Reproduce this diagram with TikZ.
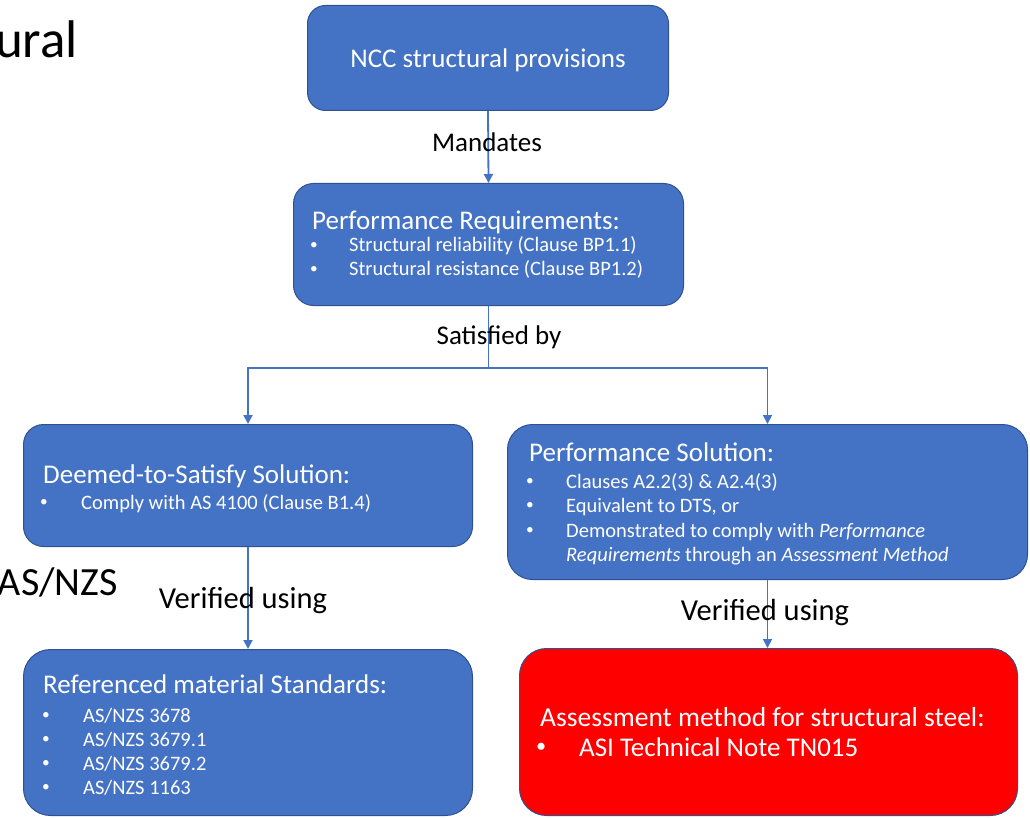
\documentclass[tikz,border=0pt]{standalone}
\usepackage{fontspec}
\setmainfont{Carlito}
\usetikzlibrary{arrows.meta}
\definecolor{boxblue}{HTML}{4472C4}
\definecolor{boxedge}{HTML}{2F528F}
\definecolor{linkblue}{HTML}{4472C4}
\definecolor{alertred}{HTML}{FF0000}
\newcommand{\titlefont}{\fontsize{27}{33}\selectfont}
\newcommand{\itemfont}{\fontsize{20.5}{24}\selectfont}
\newcommand{\smalldot}{\raisebox{0.12em}{\scalebox{0.75}{\textbullet}}}
\newcommand{\bitem}[2]{\makebox[#1pt][l]{\smalldot}#2}
\tikzset{
  panel/.style={draw=boxedge, line width=1pt, fill=boxblue, anchor=north west, inner sep=0pt},
  redpanel/.style={panel, fill=alertred},
  ttl/.style={text=white, anchor=base west, inner sep=0pt, font=\titlefont},
  itm/.style={text=white, anchor=base west, inner sep=0pt, font=\itemfont},
  lbl/.style={text=black, anchor=base, inner sep=0pt, font=\titlefont},
  biglbl/.style={lbl, font=\fontsize{30.5}{36}\selectfont},
  link/.style={draw=linkblue, line width=1.8pt},
  conn/.style={link, -{Triangle[width=9pt,length=9pt]}},
}
\begin{document}
\begin{tikzpicture}[x=1pt,y=-1pt]
\useasboundingbox (0,0) rectangle (1030,818);

% fragments of surrounding text
\node[anchor=base east, inner sep=0pt, font=\fontsize{53}{60}\selectfont] (frag1) at (78,58) {ural};
\node[anchor=base east, inner sep=0pt, font=\fontsize{40}{46}\selectfont] (frag2) at (118,595) {AS/NZS};

% boxes
\node[panel, rounded corners=18pt, minimum width=361pt, minimum height=105pt] (b1) at (307,5) {};
\node[panel, rounded corners=20pt, minimum width=390pt, minimum height=122pt] (b2) at (293,183) {};
\node[panel, rounded corners=20pt, minimum width=449pt, minimum height=122pt] (b3) at (23,424) {};
\node[panel, rounded corners=25pt, minimum width=520pt, minimum height=155pt] (b4) at (507,424) {};
\node[panel, rounded corners=27pt, minimum width=449pt, minimum height=166pt] (b5) at (23,649) {};
\node[redpanel, rounded corners=27pt, minimum width=498pt, minimum height=167pt] (b6) at (519,648) {};

% connectors
\draw[conn] (b1.south) -- (b2.north);
\draw[link] (b2.south) -- ++(0,62) coordinate (split);
\draw[conn] (split) -| (b3.north);
\draw[conn] (split) -| (b4.north);
\draw[conn] (b3.south) -- (b5.north);
\draw[conn] (b4.south) -- (b4.south |- b6.north);

% connector labels
\node[lbl] (l1) at (487,152) {Mandates};
\node[lbl] (l2) at (499,344) {Satisfied by};
\node[biglbl] (l3) at (243,608) {Verified using};
\node[biglbl] (l4) at (765,620) {Verified using};

% box 1
\node[ttl, anchor=base] (t1) at (488,68) {NCC structural provisions};

% box 2
\node[ttl] (t2) at (312,230) {Performance Requirements:};
\node[itm] (t2a) at (310,252) {\bitem{39}{Structural reliability (Clause BP1.1)}};
\node[itm] (t2b) at (310,276) {\bitem{39}{Structural resistance (Clause BP1.2)}};

% box 3
\node[ttl] (t3) at (43,483) {Deemed-to-Satisfy Solution:};
\node[itm] (t3a) at (40,509) {\bitem{41}{Comply with AS 4100 (Clause B1.4)}};

% box 4
\node[ttl] (t4) at (529,461) {Performance Solution:};
\node[itm] (t4a) at (526,488) {\bitem{40}{Clauses A2.2(3) \& A2.4(3)}};
\node[itm] (t4b) at (526,512) {\bitem{40}{Equivalent to DTS, or}};
\node[itm] (t4c) at (526,537) {\bitem{40}{Demonstrated to comply with \textit{Performance}}};
\node[itm] (t4d) at (566,561) {\textit{Requirements} through an \textit{Assessment Method}};

% box 5
\node[ttl] (t5) at (43,693) {Referenced material Standards:};
\node[itm] (t5a) at (42,722) {\bitem{41}{AS/NZS 3678}};
\node[itm] (t5b) at (42,746) {\bitem{41}{AS/NZS 3679.1}};
\node[itm] (t5c) at (42,770) {\bitem{41}{AS/NZS 3679.2}};
\node[itm] (t5d) at (42,794) {\bitem{41}{AS/NZS 1163}};

% box 6
\node[ttl, font=\fontsize{27.5}{33}\selectfont] (t6) at (540,726) {Assessment method for structural steel:};
\node[ttl] (t6a) at (536,756) {\bitem{43}{ASI Technical Note TN015}};
\end{tikzpicture}
\end{document}
